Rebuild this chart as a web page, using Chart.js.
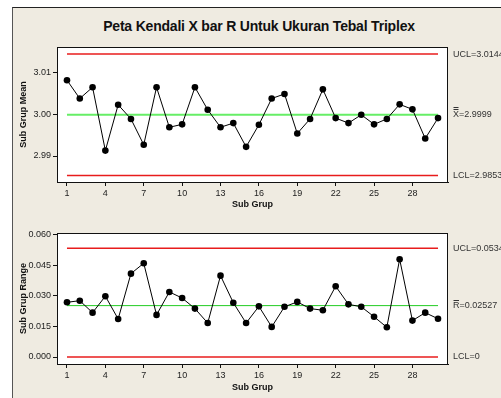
<!DOCTYPE html>
<html>
<head>
<meta charset="utf-8">
<script src="https://cdn.jsdelivr.net/npm/chart.js@4/dist/chart.umd.min.js"></script>
<style>
  html, body { margin: 0; padding: 0; background: #ffffff; }
  body { width: 501px; height: 398px; position: relative; overflow: hidden; }
  #panel {
    position: absolute; left: 12px; top: 7px; width: 520px; height: 420px;
    background: #efebe1; border-left: 1px solid #555; border-top: 1px solid #222;
  }
  #title {
    position: absolute; left: 0; top: 19px; width: 518px; text-align: center;
    font: bold 14px "Liberation Sans", Arial, sans-serif; line-height: 14px;
    letter-spacing: -0.2px; color: #111; white-space: nowrap;
  }
  canvas { position: absolute; left: 0; }
  #xbar { top: 0; }
  #range { top: 215px; }
</style>
</head>
<body>
<div id="panel"></div>
<div id="title">Peta Kendali X bar R Untuk Ukuran Tebal Triplex</div>
<canvas id="xbar" width="501" height="215"></canvas>
<canvas id="range" width="501" height="183"></canvas>
<script>
// Subgroup numbers and the statistics measured for each subgroup
const subgroups = [1, 2, 3, 4, 5, 6, 7, 8, 9, 10, 11, 12, 13, 14, 15,
                   16, 17, 18, 19, 20, 21, 22, 23, 24, 25, 26, 27, 28, 29, 30];
const means = [3.0082, 3.0038, 3.0065, 2.9913, 3.0023, 2.9989, 2.9927, 3.0065, 2.9969, 2.9976,
               3.0065, 3.0011, 2.9969, 2.9979, 2.9922, 2.9975, 3.0038, 3.0049, 2.9954, 2.9989,
               3.0060, 2.9991, 2.9979, 2.9999, 2.9976, 2.9989, 3.0024, 3.0012, 2.9942, 2.9991];
const ranges = [0.0269, 0.0277, 0.0218, 0.0299, 0.0187, 0.0410, 0.0461, 0.0207, 0.0320, 0.0290,
                0.0238, 0.0167, 0.0400, 0.0267, 0.0167, 0.0249, 0.0148, 0.0247, 0.0271, 0.0238,
                0.0230, 0.0348, 0.0259, 0.0247, 0.0198, 0.0146, 0.0481, 0.0179, 0.0218, 0.0188];

// Control limits
const xbarLimits = [3.01447, 2.9999, 2.98533];   // UCL, centre, LCL
const rangeLimits = [0.05343, 0.02527, 0];       // UCL, centre, LCL

// Tick labels
const xTicks = [1, 4, 7, 10, 13, 16, 19, 22, 25, 28];
const xbarTicks = [2.99, 3.00, 3.01];
const rangeTicks = [0.000, 0.015, 0.030, 0.045, 0.060];

const FONT = '"Liberation Sans", Arial, sans-serif';
Chart.defaults.font.family = FONT;
Chart.defaults.color = '#222';

// White plot area and black frame around it
const framePlugin = {
  id: 'frame',
  beforeDraw(chart) {
    const a = chart.chartArea, ctx = chart.ctx;
    ctx.save();
    ctx.fillStyle = '#ffffff';
    ctx.fillRect(a.left, a.top, a.right - a.left, a.bottom - a.top);
    ctx.restore();
  },
  afterDraw(chart) {
    const a = chart.chartArea, ctx = chart.ctx;
    ctx.save();
    ctx.strokeStyle = '#111';
    ctx.lineWidth = 1;
    ctx.strokeRect(a.left + 0.5, a.top + 0.5, a.right - a.left - 1, a.bottom - a.top);
    ctx.restore();
  }
};

// Limit labels to the right of the plot area
const limitLabelPlugin = {
  id: 'limitLabels',
  afterDraw(chart, args, opts) {
    const ctx = chart.ctx, y = chart.scales.y, x0 = chart.chartArea.right + 5;
    ctx.save();
    ctx.font = '9px ' + FONT;
    ctx.fillStyle = '#333';
    ctx.textBaseline = 'middle';
    ctx.textAlign = 'left';
    (opts.items || []).forEach(it => {
      const py = y.getPixelForValue(it.value);
      ctx.fillText(it.text, x0, py);
      if (it.bars) {
        const w = ctx.measureText(it.text.charAt(0)).width;
        ctx.strokeStyle = '#333';
        ctx.lineWidth = 1;
        for (let i = 0; i < it.bars; i++) {
          const by = Math.round(py - 6 - i * 2) + 0.5;
          ctx.beginPath();
          ctx.moveTo(x0 + 0.5, by);
          ctx.lineTo(x0 + w - 0.5, by);
          ctx.stroke();
        }
      }
    });
    ctx.restore();
  }
};

function hLine(value, color, width) {
  return {
    data: [{ x: subgroups[0], y: value }, { x: subgroups[subgroups.length - 1], y: value }],
    borderColor: color, borderWidth: width, pointRadius: 0, fill: false, order: 2
  };
}

function makeChart(id, values, limits, yTicks, yMin, yMax, cfg) {
  return new Chart(document.getElementById(id), {
    type: 'line',
    data: {
      datasets: [
        {
          data: subgroups.map((s, i) => ({ x: s, y: values[i] })),
          borderColor: '#000', borderWidth: 1,
          pointRadius: 3.3, pointBackgroundColor: '#000', pointBorderColor: '#000',
          pointBorderWidth: 0, order: 1
        },
        hLine(limits[0], '#e81c1c', 1.5),
        hLine(limits[1], cfg.centreColor, cfg.centreWidth),
        hLine(limits[2], '#e81c1c', 1.5)
      ]
    },
    options: {
      responsive: false,
      animation: false,
      layout: { padding: { left: 0, right: 501 - 448, top: cfg.top, bottom: 0 } },
      plugins: {
        legend: { display: false },
        tooltip: { enabled: false },
        limitLabels: { items: cfg.labels }
      },
      scales: {
        x: {
          type: 'linear',
          min: 0.22, max: 30.78,
          afterBuildTicks: s => { s.ticks = xTicks.map(v => ({ value: v })); },
          afterFit: s => { s.height = cfg.xHeight; },
          ticks: { font: { size: 9 }, color: '#222', padding: 2, autoSkip: false, maxRotation: 0 },
          grid: { drawOnChartArea: false, drawTicks: true, tickLength: 4, color: '#111' },
          border: { display: true, color: '#111' },
          title: { display: true, text: 'Sub Grup', font: { size: 9, weight: 'bold' }, color: '#111',
                   padding: { top: 0, bottom: 5 } }
        },
        y: {
          type: 'linear',
          min: yMin, max: yMax,
          afterBuildTicks: s => { s.ticks = yTicks.map(v => ({ value: v })); },
          afterFit: s => { s.width = 57; },
          ticks: { font: { size: 9 }, color: '#222', padding: 2, callback: cfg.fmt },
          grid: { drawOnChartArea: false, drawTicks: true, tickLength: 4, color: '#111' },
          border: { display: true, color: '#111' },
          title: { display: true, text: cfg.yTitle, font: { size: 9, weight: 'bold' }, color: '#111',
                   padding: { top: 18, bottom: 0 } }
        }
      }
    },
    plugins: [framePlugin, limitLabelPlugin]
  });
}

makeChart('xbar', means, xbarLimits, xbarTicks, 2.98376, 3.01617, {
  top: 47, xHeight: 33, yTitle: 'Sub Grup Mean',
  centreColor: '#66ee66', centreWidth: 2,
  fmt: v => v.toFixed(2),
  labels: [
    { value: xbarLimits[0], text: 'UCL=' + xbarLimits[0] },
    { value: xbarLimits[1], text: 'X=' + xbarLimits[1], bars: 2 },
    { value: xbarLimits[2], text: 'LCL=' + xbarLimits[2] }
  ]
});

makeChart('range', ranges, rangeLimits, rangeTicks, -0.00344, 0.06098, {
  top: 18, xHeight: 34, yTitle: 'Sub Grup Range',
  centreColor: '#22cc22', centreWidth: 1,
  fmt: v => v.toFixed(3),
  labels: [
    { value: rangeLimits[0], text: 'UCL=' + rangeLimits[0] },
    { value: rangeLimits[1], text: 'R=' + rangeLimits[1], bars: 1 },
    { value: rangeLimits[2], text: 'LCL=' + rangeLimits[2] }
  ]
});
</script>
</body>
</html>
